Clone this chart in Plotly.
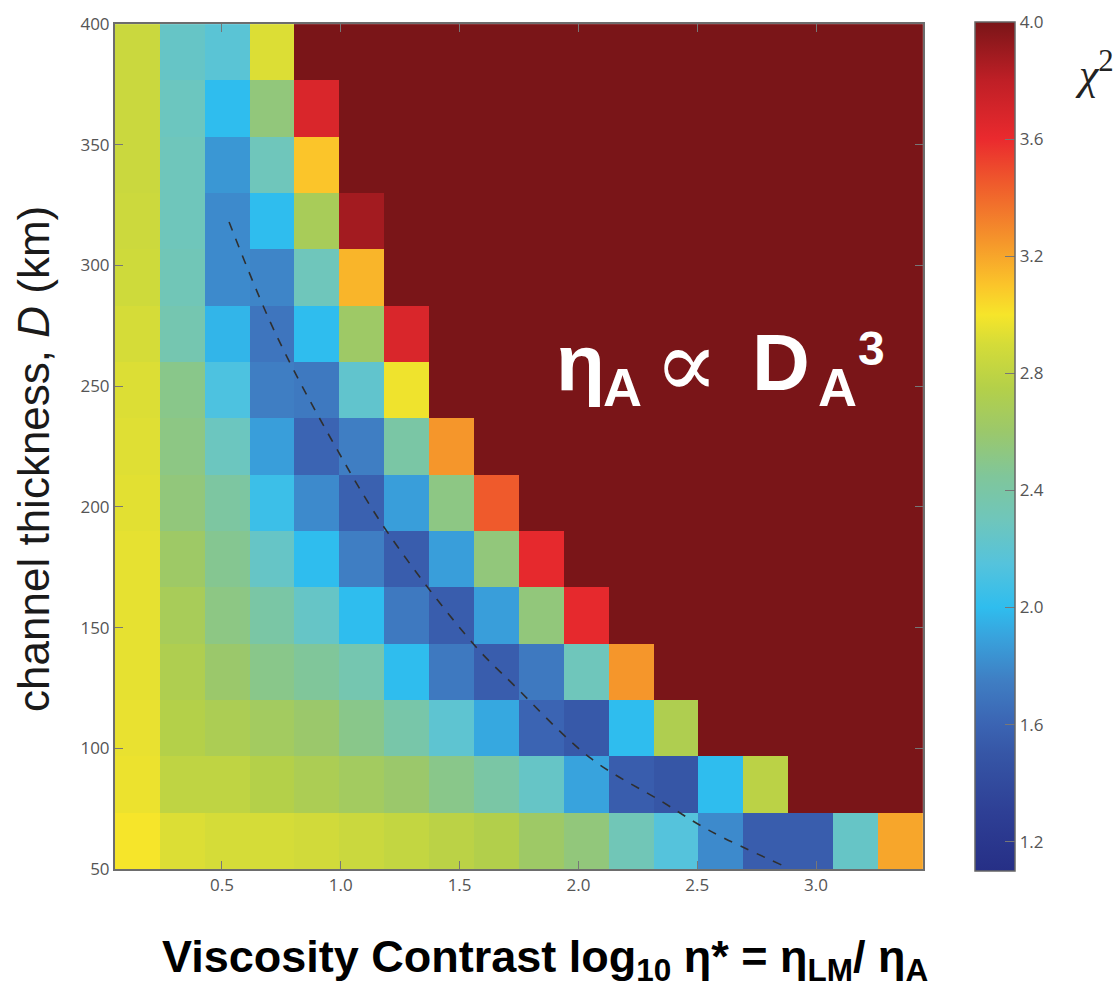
import plotly.graph_objects as go

# ---------------- data ----------------
x_centers = [0.144, 0.333, 0.522, 0.711, 0.900, 1.089, 1.278, 1.467, 1.656,
             1.844, 2.033, 2.222, 2.411, 2.600, 2.789, 2.978, 3.167, 3.356]
y_centers = [61.7, 85.0, 108.3, 131.7, 155.0, 178.3, 201.7, 225.0, 248.3,
             271.7, 295.0, 318.3, 341.7, 365.0, 388.3]

# chi^2 values, rows from bottom (D = 61.7 km) to top (D = 388.3 km); 4.0 = saturated
chi2 = [
    [3.00, 2.92, 2.90, 2.90, 2.88, 2.85, 2.82, 2.78, 2.74, 2.62, 2.55, 2.32, 2.15, 1.80, 1.55, 1.55, 2.25, 3.20],
    [2.97, 2.80, 2.80, 2.75, 2.70, 2.65, 2.60, 2.50, 2.40, 2.25, 1.90, 1.55, 1.50, 2.00, 2.78, 4.00, 4.00, 4.00],
    [2.96, 2.75, 2.70, 2.65, 2.60, 2.50, 2.38, 2.20, 1.92, 1.60, 1.52, 2.00, 2.72, 4.00, 4.00, 4.00, 4.00, 4.00],
    [2.95, 2.72, 2.60, 2.50, 2.45, 2.35, 2.00, 1.72, 1.55, 1.72, 2.30, 3.25, 4.00, 4.00, 4.00, 4.00, 4.00, 4.00],
    [2.95, 2.68, 2.52, 2.40, 2.25, 2.00, 1.72, 1.55, 1.88, 2.55, 3.62, 4.00, 4.00, 4.00, 4.00, 4.00, 4.00, 4.00],
    [2.95, 2.62, 2.48, 2.25, 2.00, 1.75, 1.55, 1.88, 2.55, 3.62, 4.00, 4.00, 4.00, 4.00, 4.00, 4.00, 4.00, 4.00],
    [2.94, 2.55, 2.42, 2.05, 1.80, 1.58, 1.88, 2.52, 3.45, 4.00, 4.00, 4.00, 4.00, 4.00, 4.00, 4.00, 4.00, 4.00],
    [2.93, 2.52, 2.28, 1.88, 1.60, 1.75, 2.40, 3.25, 4.00, 4.00, 4.00, 4.00, 4.00, 4.00, 4.00, 4.00, 4.00, 4.00],
    [2.92, 2.50, 2.12, 1.75, 1.72, 2.22, 2.98, 4.00, 4.00, 4.00, 4.00, 4.00, 4.00, 4.00, 4.00, 4.00, 4.00, 4.00],
    [2.90, 2.35, 1.97, 1.70, 2.00, 2.62, 3.68, 4.00, 4.00, 4.00, 4.00, 4.00, 4.00, 4.00, 4.00, 4.00, 4.00, 4.00],
    [2.87, 2.32, 1.80, 1.78, 2.30, 3.15, 4.00, 4.00, 4.00, 4.00, 4.00, 4.00, 4.00, 4.00, 4.00, 4.00, 4.00, 4.00],
    [2.86, 2.30, 1.80, 2.00, 2.68, 3.88, 4.00, 4.00, 4.00, 4.00, 4.00, 4.00, 4.00, 4.00, 4.00, 4.00, 4.00, 4.00],
    [2.85, 2.30, 1.85, 2.30, 3.10, 4.00, 4.00, 4.00, 4.00, 4.00, 4.00, 4.00, 4.00, 4.00, 4.00, 4.00, 4.00, 4.00],
    [2.85, 2.28, 2.00, 2.55, 3.68, 4.00, 4.00, 4.00, 4.00, 4.00, 4.00, 4.00, 4.00, 4.00, 4.00, 4.00, 4.00, 4.00],
    [2.85, 2.25, 2.18, 2.92, 4.00, 4.00, 4.00, 4.00, 4.00, 4.00, 4.00, 4.00, 4.00, 4.00, 4.00, 4.00, 4.00, 4.00],
]

# dashed trend line
trend_x = [0.53, 0.72, 0.96, 1.20, 1.56, 1.72, 2.05, 2.35, 2.55, 2.87]
trend_y = [318, 273, 228, 189, 143, 127, 96, 78, 66, 51]

x_tick_vals = [0.5, 1.0, 1.5, 2.0, 2.5, 3.0]
x_tick_text = ["0.5", "1.0", "1.5", "2.0", "2.5", "3.0"]
y_tick_vals = [50, 100, 150, 200, 250, 300, 350, 400]
cb_tick_vals = [1.2, 1.6, 2.0, 2.4, 2.8, 3.2, 3.6, 4.0]
cb_tick_text = ["1.2", "1.6", "2.0", "2.4", "2.8", "3.2", "3.6", "4.0"]

# ---------------- style ----------------
ZMIN, ZMAX = 1.1, 4.0
scale_stops = [
    (1.10, "#262f86"), (1.30, "#2e3f95"), (1.50, "#3656a6"), (1.60, "#3b64b3"),
    (1.75, "#3f7ec3"), (1.90, "#38a3dd"), (2.00, "#2fbdee"), (2.15, "#55c3dc"),
    (2.30, "#6fc6bb"), (2.45, "#80c69a"), (2.60, "#9bc86b"), (2.75, "#b4d049"),
    (2.90, "#d5dc38"), (3.00, "#f6e52a"), (3.10, "#fbc52a"), (3.25, "#f5962b"),
    (3.45, "#ef5a2c"), (3.60, "#ea2a2e"), (3.80, "#bf1f26"), (4.00, "#7a1518"),
]
colorscale = [[(v - ZMIN) / (ZMAX - ZMIN), c] for v, c in scale_stops]
colorscale[0][0] = 0.0
colorscale[-1][0] = 1.0

W, H = 1120, 990
L, R, T, B = 115, 923, 20, 869


def px(xp):
    return (xp - L) / (R - L)


def py(yp):
    return (B - yp) / (B - T)


tick_font = dict(family="Open Sans", size=17, color="#555555")

fig = go.Figure()
fig.add_trace(go.Heatmap(
    x=x_centers, y=y_centers, z=chi2,
    zmin=ZMIN, zmax=ZMAX, colorscale=colorscale,
    colorbar=dict(
        x=px(975), xanchor="left", xpad=0, ypad=0,
        y=0.5, yanchor="middle", len=B - T, lenmode="pixels",
        thickness=40, outlinecolor="#666666", outlinewidth=1.5,
        tickvals=cb_tick_vals, ticktext=cb_tick_text,
        ticks="inside", ticklen=10, tickcolor="#777777",
        tickfont=tick_font,
    ),
    hoverinfo="skip",
))
fig.add_trace(go.Scatter(
    x=trend_x, y=trend_y, mode="lines",
    line=dict(color="#2f2f2f", width=1.6, dash="dash", shape="spline"),
    showlegend=False, hoverinfo="skip",
))

axis_common = dict(
    showline=True, mirror="ticks", linecolor="#6d6d6d", linewidth=2,
    ticks="inside", ticklen=8, tickcolor="#777777", showgrid=False, zeroline=False,
    tickfont=tick_font,
)
fig.update_xaxes(range=[0.05, 3.45], tickvals=x_tick_vals, ticktext=x_tick_text,
                 **axis_common)
fig.update_yaxes(range=[50, 400], tickvals=y_tick_vals, **axis_common)

annotations = []


def ann(text, xp, yp, size, weight="bold", color="white", family="Liberation Sans, Arial",
        xanchor="left", angle=0, style="normal"):
    annotations.append(dict(
        text=text, x=px(xp), y=py(yp), xref="paper", yref="paper",
        xanchor=xanchor, yanchor="middle", showarrow=False, textangle=angle,
        font=dict(family=family, size=size, color=color, weight=weight, style=style),
    ))


# eta_A ∝ D_A^3 label
ann("η", 554, 360, 80)
ann("A", 601, 385, 54)
ann("∝", 652, 362, 96, weight="normal", family="Liberation Serif, DejaVu Serif")
ann("D", 750, 360, 80)
ann("A", 816, 385, 54)
ann("3", 856, 346, 48)

# axis titles
ann("Viscosity Contrast log<sub>10</sub> η* = η<sub>LM</sub>/ η<sub>A</sub>", 545, 960, 45,
    color="black", xanchor="center")
ann("channel thickness, <i>D</i> (km)", 34, 457, 44, weight="normal", color="#1a1a1a",
    xanchor="center", angle=-90)
# colorbar title
ann("<i>χ</i><sup>2</sup>", 1094, 68, 44, weight="normal", color="#222222",
    family="Liberation Serif, Times New Roman", xanchor="center")

fig.update_layout(
    width=W, height=H,
    margin=dict(l=L, r=W - R, t=T, b=H - B),
    paper_bgcolor="white", plot_bgcolor="white",
    annotations=annotations, showlegend=False,
)

fig.write_html("out.html")
